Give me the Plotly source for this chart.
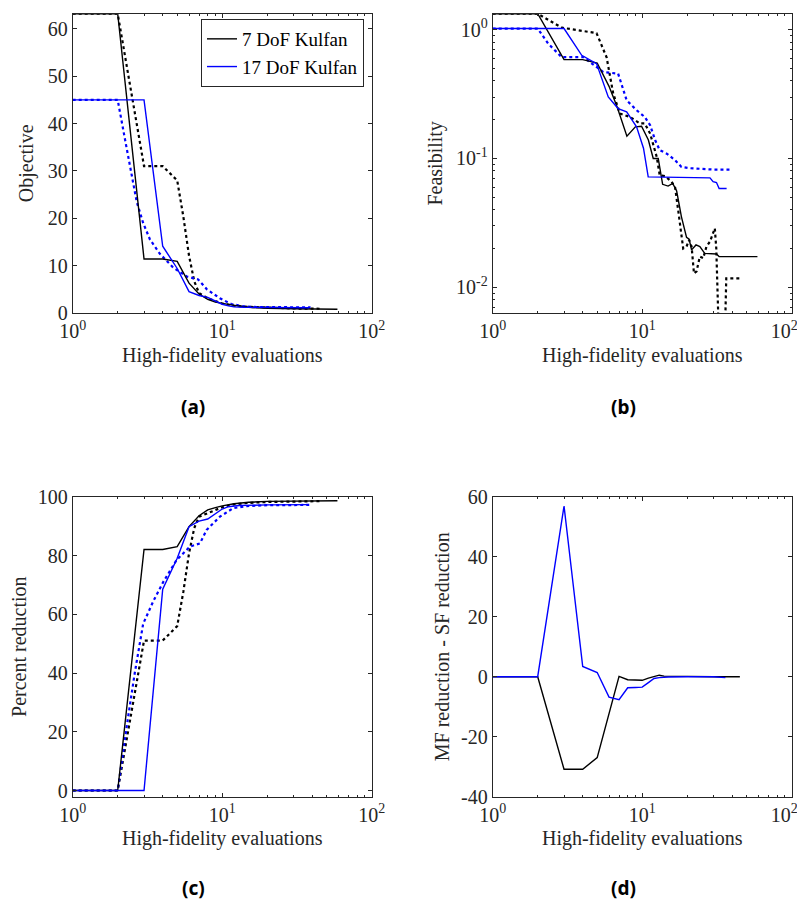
import plotly.graph_objects as go

# evaluation counts and values
# (a) objective
a_x_mf7 = [1, 2, 3, 4, 5, 6, 7, 8, 9, 10, 12, 15, 20, 30, 59]
a_y_mf7 = [63.2, 63.2, 11.4, 11.4, 10.9, 6.3, 4.0, 2.9, 2.3, 2.0, 1.6, 1.2, 1.0, 0.9, 0.8]
a_x_sf7 = [1, 2, 3, 4, 5, 5.5, 6, 6.5, 7, 8, 10, 12, 15, 20, 30, 46]
a_y_sf7 = [63.2, 63.2, 31.0, 31.0, 28.0, 20.3, 12.1, 6.7, 4.2, 3.1, 2.0, 1.55, 1.3, 1.1, 0.95, 0.9]
a_x_mf17 = [1, 2, 3, 4, 5, 6, 7, 8, 9, 10, 11, 12, 14, 20, 30, 38]
a_y_mf17 = [45, 45, 45, 14.1, 9.4, 4.5, 3.7, 3.3, 2.5, 1.85, 1.5, 1.3, 1.2, 1.15, 1.1, 1.1]
a_x_sf17 = [1, 2, 2.24, 2.48, 2.68, 2.96, 3.29, 3.83, 4.7, 5.8, 6.9, 7.9, 9.65, 11.5, 14, 17, 22, 30, 39]
a_y_sf17 = [45, 45, 36.6, 29.5, 23.5, 19.0, 15.5, 12.5, 9.6, 7.7, 7.1, 5.0, 3.1, 1.9, 1.4, 1.25, 1.2, 1.2, 1.2]

# (b) feasibility
b_x_mf7 = [1, 2, 3, 4, 5, 6, 6.8, 7.9, 9.0, 9.9, 11, 11.85, 12.8, 13.7, 14.9, 16, 17, 18.3, 19.8,
           20.6, 21.4, 22.9, 24.3, 26.2, 31.4, 32.7, 59]
b_y_mf7 = [1.33, 1.33, 0.585, 0.585, 0.551, 0.363, 0.251, 0.149, 0.176, 0.178, 0.139, 0.10, 0.10,
           0.063, 0.061, 0.064, 0.056, 0.0352, 0.0244, 0.0236, 0.0195, 0.0213, 0.0207, 0.0183,
           0.0181, 0.0173, 0.0173]
b_x_sf7 = [1, 2, 2.9, 4.95, 5.78, 6.4, 7.1, 8.28, 9.65, 10.4, 11.3, 12.5, 13.1, 14.2, 15.7, 16.6,
           17.4, 18.3, 18.8, 19.8, 20.6, 21.4, 22.2, 23.1, 24.3, 25.6, 26.9, 28.4, 30.6, 31.3,
           32.2, 32.6, 35.7, 36.5, 46]
b_y_sf7 = [1.33, 1.33, 1.036, 0.94, 0.61, 0.319, 0.223, 0.21, 0.187, 0.187, 0.156, 0.103, 0.074,
           0.073, 0.066, 0.0596, 0.0398, 0.0262, 0.020, 0.0207, 0.0233, 0.0207, 0.0128, 0.0133,
           0.0173, 0.0168, 0.0207, 0.0226, 0.0287, 0.020, 0.0071, 0.004, 0.004, 0.0117, 0.0117]
b_x_mf17 = [1, 2, 3, 3.94, 4.95, 5.93, 6.9, 7.87, 9.17, 10.2, 10.97, 28.4, 29.8, 31.4, 32.7, 36.7]
b_y_mf17 = [1.02, 1.02, 1.02, 0.632, 0.545, 0.30, 0.244, 0.23, 0.176, 0.12, 0.072, 0.0707, 0.066,
            0.065, 0.0585, 0.0585]
b_x_sf17 = [1, 2, 2.35, 2.89, 4.03, 4.83, 5.49, 6.9, 7.87, 9.17, 10.4, 11.3, 12.2, 13.1, 14.6,
            16.6, 18.3, 20.8, 29.8, 38.6]
b_y_sf17 = [1.02, 1.02, 0.78, 0.613, 0.613, 0.529, 0.469, 0.456, 0.283, 0.237, 0.21, 0.181, 0.139,
            0.116, 0.109, 0.097, 0.086, 0.084, 0.082, 0.082]

# (c) percent reduction
c_x_mf7 = [1, 2, 3, 4, 5, 6, 7, 8, 9, 10, 12, 15, 20, 30, 59]
c_y_mf7 = [0, 0, 82.1, 82.1, 83.1, 89.9, 93.6, 95.6, 96.4, 97.0, 97.7, 98.2, 98.5, 98.6, 98.7]
c_x_sf7 = [1, 2, 3, 4, 5, 5.5, 6, 6.5, 7, 8, 10, 12, 15, 20, 30, 46]
c_y_sf7 = [0, 0, 51.1, 51.1, 56.0, 67.8, 80.8, 89.4, 93.3, 94.5, 96.5, 97.5, 98.0, 98.3, 98.5, 98.6]
c_x_mf17 = [1, 2, 3, 4, 5, 6, 7, 8, 9, 10, 11, 13, 20, 38]
c_y_mf17 = [0, 0, 0, 68.6, 79.1, 89.9, 91.8, 92.5, 94.4, 95.9, 96.7, 97.1, 97.3, 97.4]
c_x_sf17 = [1, 2, 2.3, 2.6, 2.96, 3.46, 4.03, 4.95, 6.08, 7.1, 7.87, 9.65, 11.85, 14.6, 20, 39]
c_y_sf17 = [0, 0, 22, 40, 56.8, 64.5, 71.0, 78.5, 83.1, 84.2, 88.8, 93.3, 96.2, 96.9, 97.2, 97.3]

# (d) MF reduction - SF reduction
d_x_7 = [1, 2, 3, 4, 5, 6, 7, 8, 9, 10, 11, 12, 13, 14, 16, 20, 30, 45]
d_y_7 = [0, 0, -30.9, -30.9, -27.0, -12.4, 0.1, -1.0, -1.2, -1.2, -0.5, 0.0, 0.5, 0.2, 0.1, 0.1, 0, 0]
d_x_17 = [1, 2, 3, 4, 5, 6, 7, 8, 9, 10, 11, 12, 13, 15, 20, 30, 36]
d_y_17 = [0, 0, 57.0, 3.4, 1.4, -6.8, -7.7, -3.7, -3.6, -3.5, -2.0, -0.6, -0.3, -0.1, 0, 0, -0.3]

legend_names = ['7 DoF Kulfan', '17 DoF Kulfan']
panel_labels = ['(a)', '(b)', '(c)', '(d)']
ylabels = ['Objective', 'Feasibility', 'Percent reduction', 'MF reduction - SF reduction']
xlabel = 'High-fidelity evaluations'
xtick_text = ['10<sup>0</sup>', '10<sup>1</sup>', '10<sup>2</sup>']

BLACK = '#000000'
BLUE = '#0000ff'
AX = '#262626'
SERIF = 'Liberation Serif, Times New Roman, serif'
PAD = 8                # the page body keeps its default 8px margin
W, H = 812, 901 - PAD


def px_x(px):
    return (px - PAD) / W


def px_y(py):
    return 1 - (py - PAD) / H


def line(x, y, color, dotted, ax, name=None, legend=False):
    return go.Scatter(
        x=x, y=y, mode='lines', name=name, showlegend=legend,
        line=dict(color=color, width=2.2 if dotted else 1.4, dash='dot' if dotted else 'solid'),
        xaxis='x' + ax, yaxis='y' + ax, hoverinfo='skip'
    )


data = [
    line(a_x_sf7, a_y_sf7, BLACK, True, ''),
    line(a_x_sf17, a_y_sf17, BLUE, True, ''),
    line(a_x_mf7, a_y_mf7, BLACK, False, '', legend_names[0], True),
    line(a_x_mf17, a_y_mf17, BLUE, False, '', legend_names[1], True),
    line(b_x_sf7, b_y_sf7, BLACK, True, '2'),
    line(b_x_sf17, b_y_sf17, BLUE, True, '2'),
    line(b_x_mf7, b_y_mf7, BLACK, False, '2'),
    line(b_x_mf17, b_y_mf17, BLUE, False, '2'),
    line(c_x_sf7, c_y_sf7, BLACK, True, '3'),
    line(c_x_sf17, c_y_sf17, BLUE, True, '3'),
    line(c_x_mf7, c_y_mf7, BLACK, False, '3'),
    line(c_x_mf17, c_y_mf17, BLUE, False, '3'),
    line(d_x_7, d_y_7, BLACK, False, '4'),
    line(d_x_17, d_y_17, BLUE, False, '4'),
]

# plot areas in window pixels: (left, right, top, bottom)
boxes = [(72.7, 371.7, 13.7, 313), (492.7, 791.7, 13.7, 313),
         (72.7, 371.7, 497, 796.5), (492.7, 791.7, 497, 796.5)]

minor_log = [2, 3, 4, 5, 6, 7, 8, 9, 20, 30, 40, 50, 60, 70, 80, 90]

common = dict(showline=True, linecolor=AX, linewidth=1, mirror='ticks', ticks='inside',
              ticklen=4, tickcolor=AX, showgrid=False, zeroline=False, automargin=False,
              ticklabeloverflow='allow',
              tickfont=dict(family=SERIF, size=20, color=AX))

layout = go.Layout(template='none', width=W, height=H, margin=dict(l=0, r=0, t=0, b=0),
                   paper_bgcolor='white', plot_bgcolor='white',
                   font=dict(family=SERIF, size=20, color=AX),
                   legend=dict(x=px_x(364), y=px_y(19), xanchor='right', yanchor='top',
                               bgcolor='white', bordercolor=AX, borderwidth=1,
                               font=dict(family=SERIF, size=19, color='#000000'),
                               tracegroupgap=0, itemwidth=30))

yranges = [[0, 63.2], [-2.2, 0.124], [-2.04, 100], [-40, 60]]
ytick_vals = [[0, 10, 20, 30, 40, 50, 60], [0.01, 0.1, 1], [0, 20, 40, 60, 80, 100],
              [-40, -20, 0, 20, 40, 60]]
ytick_text = [[str(v) for v in ytick_vals[0]],
              ['10<sup>-2</sup>', '10<sup>-1</sup>', '10<sup>0</sup>'],
              [str(v) for v in ytick_vals[2]],
              ['-40', '-20', '0', '20', '40', '60']]
ystandoff = [8, 8, 8, 6]

for i, (l, r, t, b) in enumerate(boxes):
    sfx = '' if i == 0 else str(i + 1)
    ttext = list(xtick_text)
    if i % 2 == 1:
        # right-hand panels: nudge the last label so it stays inside the window
        ttext[-1] = ttext[-1] + '\u00a0\u00a0\u00a0'
    xa = dict(common, type='log', range=[0, 2], domain=[px_x(l), px_x(r)], anchor='y' + sfx,
              tickvals=[1, 10, 100], ticktext=ttext,
              minor=dict(tickmode='array', tickvals=minor_log, ticks='inside', ticklen=2,
                         tickcolor=AX, showgrid=False),
              title=dict(text=xlabel, font=dict(family=SERIF, size=20, color=AX), standoff=6))
    ya = dict(common, range=yranges[i], domain=[px_y(b), px_y(t)], anchor='x' + sfx,
              tickmode='array', tickvals=ytick_vals[i], ticktext=ytick_text[i],
              title=dict(text=ylabels[i], font=dict(family=SERIF, size=20, color=AX),
                         standoff=ystandoff[i]))
    if i == 1:
        ya['type'] = 'log'
        ya['minor'] = dict(tickmode='array', ticks='inside', ticklen=2, tickcolor=AX,
                           tickvals=[0.007, 0.008, 0.009, 0.02, 0.03, 0.04, 0.05, 0.06, 0.07,
                                     0.08, 0.09, 0.2, 0.3, 0.4, 0.5, 0.6, 0.7, 0.8, 0.9])
    layout['xaxis' + sfx] = xa
    layout['yaxis' + sfx] = ya

label_pos = [(193, 407), (623, 407), (193, 888), (623, 888)]
layout['annotations'] = [
    dict(text='<b>%s</b>' % txt, x=px_x(px), y=px_y(py), xref='paper', yref='paper',
         showarrow=False, xanchor='center', yanchor='middle',
         font=dict(family='Noto Sans, Open Sans, sans-serif', size=19, color='#000000'))
    for txt, (px, py) in zip(panel_labels, label_pos)
]

fig = go.Figure(data=data, layout=layout)
fig.write_html('out.html')
